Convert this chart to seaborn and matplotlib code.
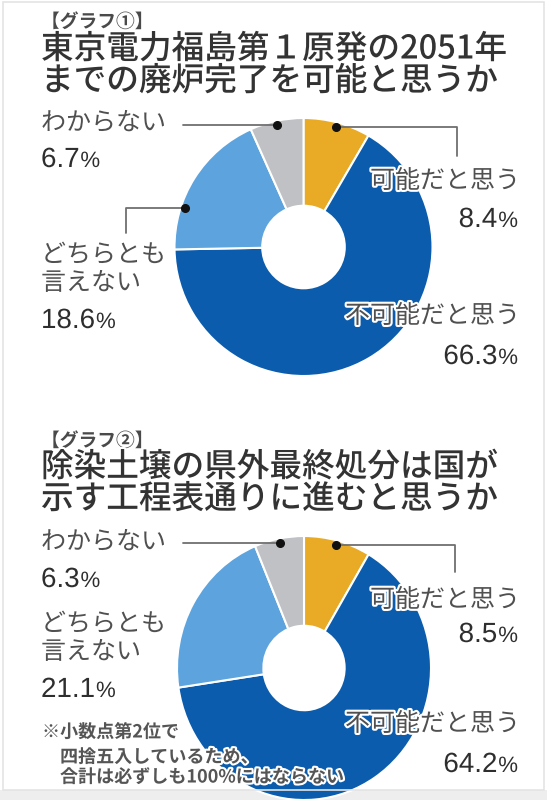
import numpy as np
import matplotlib
matplotlib.use('Agg')
import matplotlib.pyplot as plt
import matplotlib.patheffects as pe
from matplotlib.lines import Line2D
from matplotlib.patches import Rectangle
import seaborn as sns

# data
answers = ['可能だと思う', '不可能だと思う', 'どちらとも言えない', 'わからない']
shares_1 = [8.4, 66.3, 18.6, 6.7]
shares_2 = [8.5, 64.2, 21.1, 6.3]
pct_1 = ['8.4', '66.3', '18.6', '6.7']
pct_2 = ['8.5', '64.2', '21.1', '6.3']
header_1 = '【グラフ①】'
header_2 = '【グラフ②】'
title_1 = ['東京電力福島第１原発の2051年', 'までの廃炉完了を可能と思うか']
title_2 = ['除染土壌の県外最終処分は国が', '示す工程表通りに進むと思うか']
note = ['※小数点第2位で', '四捨五入しているため、', '合計は必ずしも100%にはならない']

colors = ['#E9AB25', '#0B5CAD', '#5DA3DD', '#BFC1C4']

sns.set_theme(style='white')
plt.rcParams['font.family'] = ['Noto Sans CJK JP', 'DejaVu Sans']

W, H = 547, 800
fig = plt.figure(figsize=(W / 100, H / 100), dpi=100)
fig.patch.set_facecolor('white')
renderer = fig.canvas.get_renderer()

# screenshot frame
fig.add_artist(Rectangle((0, 0), 1, 10 / H, transform=fig.transFigure,
                         facecolor='#eeeeee', edgecolor='none', zorder=0))
fig.add_artist(Rectangle((3 / W, 10 / H), 541 / W, 788 / H, transform=fig.transFigure,
                         facecolor='none', edgecolor='#e4e4e4', lw=1.2, zorder=1))


def fx(x):
    return x / W


def fy(y):
    return 1 - y / H


halo = [pe.withStroke(linewidth=3, foreground='white')]


def txt(x, y, s, size, ha='left', color='#505050', weight='normal'):
    return fig.text(fx(x), fy(y), s, fontsize=size, ha=ha, va='center', color=color,
                    fontweight=weight, path_effects=halo, zorder=10)


def pct(x, y, num, ha='left'):
    # digits large, % sign smaller, sharing one baseline (y = visual centre)
    base = fy(y + 10)
    kw = dict(family=['Liberation Sans', 'DejaVu Sans'], color='#2e2e2e', va='baseline',
              path_effects=halo, zorder=10)
    if ha == 'left':
        t = fig.text(fx(x), base, num, fontsize=20, ha='left', **kw)
        x1 = t.get_window_extent(renderer).x1
        fig.text(x1 / W + 1 / W, base, '%', fontsize=16, ha='left', **kw)
    else:
        t = fig.text(fx(x), base, '%', fontsize=16, ha='right', **kw)
        x0 = t.get_window_extent(renderer).x0
        fig.text(x0 / W - 1 / W, base, num, fontsize=20, ha='right', **kw)


def donut(cx, cy, rx, ry, values):
    ax = fig.add_axes([fx(cx - rx), fy(cy + ry), 2 * rx / W, 2 * ry / H])
    wedges, _ = ax.pie(values, colors=colors, startangle=90, counterclock=False,
                       radius=1, wedgeprops=dict(width=0.68, edgecolor='white', linewidth=1.5))
    ax.set_aspect('auto')
    ax.set_xlim(-1, 1)
    ax.set_ylim(-1, 1)
    ax.axis('off')
    return ax, wedges


def dot_px(ax, wedge, frac, r=0.965):
    th = np.deg2rad(wedge.theta1 + frac * (wedge.theta2 - wedge.theta1))
    disp = ax.transData.transform((r * np.cos(th), r * np.sin(th)))
    fxy = fig.transFigure.inverted().transform(disp)
    return fxy[0] * W, (1 - fxy[1]) * H


def leader(points):
    xs = [fx(p[0]) for p in points]
    ys = [fy(p[1]) for p in points]
    fig.add_artist(Line2D(xs, ys, color='#707070', lw=1.3, zorder=5))
    fig.add_artist(Line2D([xs[0]], [ys[0]], marker='o', ms=5.5, color='#111111', zorder=6))


# ---- chart 1
ax1, w1 = donut(303.5, 247, 129, 129, shares_1)
txt(41, 22, header_1, 13.5, color='#4a4a4a', weight='bold')
txt(41, 49, title_1[0], 23.5, color='#333333', weight='medium')
txt(41, 81, title_1[1], 23.5, color='#333333', weight='medium')

txt(41, 123, 'わからない', 18)
pct(41, 157, pct_1[3])
txt(41, 255, 'どちらとも', 18)
txt(41, 283, '言えない', 18)
pct(41, 318, pct_1[2])
txt(520, 181, answers[0], 18, ha='right')
pct(518, 217, pct_1[0], ha='right')
txt(520, 316, answers[1], 18, ha='right')
pct(518, 354, pct_1[1], ha='right')

d = dot_px(ax1, w1[3], 0.5)
leader([d, (183, d[1])])
d = dot_px(ax1, w1[0], 0.5)
leader([d, (457, d[1]), (457, 156)])
d = dot_px(ax1, w1[2], 0.71)
leader([d, (126, d[1]), (126, 233)])

# ---- chart 2
ax2, w2 = donut(304, 668, 127, 132, shares_2)
txt(41, 441, header_2, 13.5, color='#4a4a4a', weight='bold')
txt(41, 467, title_2[0], 23.5, color='#333333', weight='medium')
txt(41, 499, title_2[1], 23.5, color='#333333', weight='medium')

txt(41, 542, 'わからない', 18)
pct(41, 577, pct_2[3])
txt(41, 624, 'どちらとも', 18)
txt(41, 652, '言えない', 18)
pct(41, 687, pct_2[2])
txt(520, 600, answers[0], 18, ha='right')
pct(518, 632, pct_2[0], ha='right')
txt(520, 724, answers[1], 18, ha='right')
pct(518, 762, pct_2[1], ha='right')

d = dot_px(ax2, w2[3], 0.5)
leader([d, (183, d[1])])
d = dot_px(ax2, w2[0], 0.5)
leader([d, (455, d[1]), (455, 572)])

txt(42, 732, note[0], 13, color='#555555', weight='bold')
txt(60, 757, note[1], 13, color='#555555', weight='bold')
txt(60, 777, note[2], 13, color='#555555', weight='bold')

fig.savefig('out.png', dpi=100, facecolor='white')
